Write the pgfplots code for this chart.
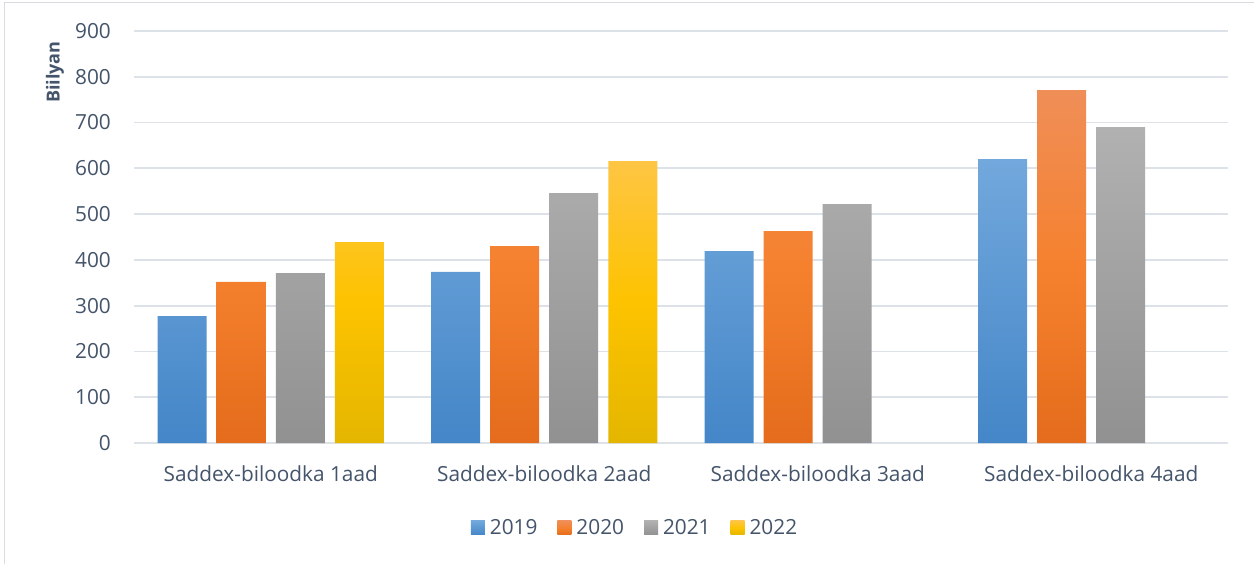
\documentclass[border=0pt]{standalone}
\usepackage{pgfplots}
\pgfplotsset{compat=1.18}
\usepackage{fontspec}
\setmainfont{Open Sans}
\definecolor{txt}{HTML}{44546A}
\definecolor{gridc}{HTML}{DDE2E8}
\definecolor{framec}{HTML}{D9DDE2}
\definecolor{bT}{HTML}{72A8DC}\definecolor{bB}{HTML}{4486C8}
\definecolor{oT}{HTML}{F08E58}\definecolor{oM}{HTML}{F5812E}\definecolor{oB}{HTML}{E46C1C}
\definecolor{gT}{HTML}{B1B1B1}\definecolor{gB}{HTML}{919191}
\definecolor{yT}{HTML}{FEC544}\definecolor{yM}{HTML}{FDC300}\definecolor{yB}{HTML}{E4B600}
\begin{document}
\begin{tikzpicture}
\useasboundingbox (0,0) rectangle (1254bp,564bp);
\fill[white] (0,0) rectangle (1254bp,564bp);
\draw[framec, line width=1.2bp] (4.5bp,0) -- (4.5bp,561.5bp) -- (1254bp,561.5bp);
\begin{axis}[
  at={(134bp,121bp)}, anchor=south west,
  scale only axis, width=1094bp, height=412bp,
  ymin=0, ymax=900, ytick={0,100,...,900},
  xmin=-0.5, xmax=3.5, xtick={0,1,2,3},
  xticklabels={Saddex-biloodka 1aad,Saddex-biloodka 2aad,Saddex-biloodka 3aad,Saddex-biloodka 4aad},
  axis line style={draw=none},
  major tick length=0pt,
  ymajorgrids=true, xmajorgrids=false,
  major grid style={draw=gridc, line width=1.8bp},
  ybar=10bp, bar width=49bp,
  /pgf/number format/assume math mode=true,
  tick label style={font=\fontsize{20.8bp}{24bp}\selectfont, text=txt},
  yticklabel style={anchor=east, inner sep=0pt, xshift=-23bp},
  xticklabel style={anchor=north, inner sep=0pt, yshift=-22bp},
  ylabel={Biilyan},
  ylabel style={at={(axis description cs:-0.0722,0.90)}, anchor=center, font=\bfseries\fontsize{18bp}{21bp}\selectfont, text=txt},
  legend columns=4,
  legend style={at={(0.458,-0.206)}, anchor=center, draw=none, fill=none,
    font=\fontsize{20.8bp}{24bp}\selectfont, text=txt,
    /tikz/every odd column/.append style={column sep=3bp},
    /tikz/every even column/.append style={column sep=18bp}},
  legend image code/.code={\path[#1] (0bp,-7bp) rectangle (14bp,7bp);},
]
\addplot[draw=none, top color=bT, bottom color=bB] coordinates {(0,277) (1,374) (2,419) (3,620)};
\addplot[draw=none, top color=oT, bottom color=oB, middle color=oM] coordinates {(0,352) (1,430) (2,463) (3,771)};
\addplot[draw=none, top color=gT, bottom color=gB] coordinates {(0,371) (1,546) (2,522) (3,690)};
\addplot[draw=none, top color=yT, bottom color=yB, middle color=yM] coordinates {(0,439) (1,616)};
\legend{2019,2020,2021,2022}
\end{axis}
\end{tikzpicture}
\end{document}
